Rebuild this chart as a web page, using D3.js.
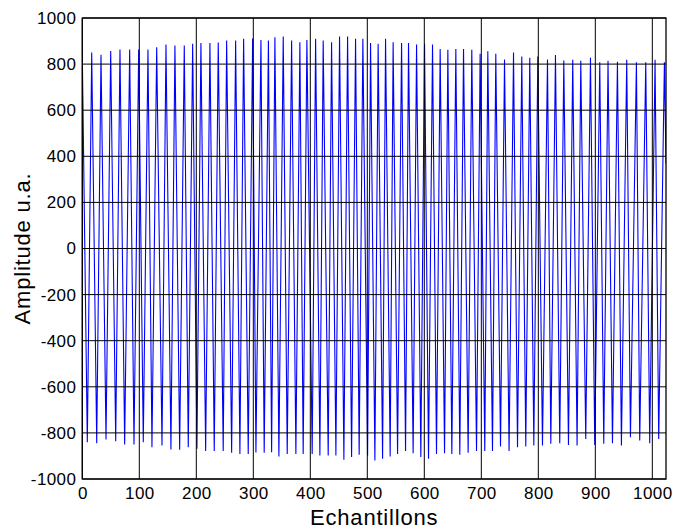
<!DOCTYPE html>
<html>
<head>
<meta charset="utf-8">
<script src="https://cdn.jsdelivr.net/npm/d3@7"></script>
<style>
  html, body { margin: 0; padding: 0; background: #fff; }
  svg { display: block; }
  text { font-family: "Liberation Sans", Arial, sans-serif; fill: #000; }
</style>
</head>
<body>
<svg id="chart" width="673" height="531"></svg>
<script>
// ---- data ----
const peakSamples = [0, 16.5, 32.8, 49.8, 66.1, 83.1, 98.9, 115.2, 130.5, 146.8, 162.5, 178.9, 193.6, 208.1, 223.9, 238.5, 253.2, 269.0, 283.0, 298.8, 313.4, 326.5,
  337.9, 352.5, 367.2, 381.7, 394.0, 409.3, 422.6, 437.3, 451.3, 465.4, 479.4, 492.2, 505.7, 519.0, 532.0, 545.3, 560.1, 572.3, 586.4, 600.4, 614.4, 627.8, 641.3, 655.3, 668.8,
  683.3, 697.9, 711.4, 725.4, 740.7, 756.5, 771.0, 785.0, 799.1, 816.1, 830.1, 844.7, 860.4, 874.5, 891.5, 907.8, 922.3, 938.8, 955.1, 972.1, 988.5, 1004.8, 1021.2];
const peakValues = [842, 850, 840, 857, 863, 863, 863, 863, 873, 885, 881, 881, 888, 891, 892, 894, 902, 902, 910, 911, 905, 902,
  917, 920, 902, 895, 905, 910, 902, 895, 920, 920, 910, 910, 891, 888, 910, 895, 891, 891, 885, 888, 885, 866, 862, 866, 866,
  862, 845, 856, 845, 820, 850, 833, 827, 833, 820, 839, 816, 819, 814, 827, 808, 814, 810, 819, 808, 808, 819, 808];
const troughSamples = [8.8, 25.3, 41.6, 58.6, 74.3, 90.7, 107.0, 122.2, 139.8, 155.5, 170.8, 185.9, 201.1, 216.4, 231.5, 247.2, 262.0, 276.5, 291.1, 304.6, 319.1,
  332.1, 344.9, 359.5, 374.7, 387.5, 403.3, 416.8, 431.4, 444.9, 458.9, 472.4, 485.7, 500.5, 513.3, 526.8, 540.1, 553.1, 567.1, 580.4, 593.9, 607.4, 621.4, 635.5, 648.3, 662.3,
  676.9, 691.6, 706.1, 719.6, 733.7, 748.7, 763.5, 778.0, 792.1, 807.3, 821.9, 837.6, 852.9, 868.0, 883.2, 899.0, 914.8, 930.1, 945.8, 961.6, 977.9, 995.4, 1011.2, 1024];
const troughValues = [-840, -845, -829, -836, -850, -850, -840, -862, -855, -872, -873, -862, -869, -879, -879, -879, -886, -891, -891, -885, -886,
  -884, -902, -891, -891, -891, -891, -898, -898, -898, -917, -905, -895, -898, -920, -912, -902, -891, -879, -888, -905, -912, -891, -888, -891, -895,
  -886, -879, -879, -879, -859, -879, -862, -859, -855, -855, -847, -845, -852, -855, -826, -852, -847, -845, -855, -819, -833, -845, -826, 370];
const xTicks = [0, 100, 200, 300, 400, 500, 600, 700, 800, 900, 1000];
const yTicks = [-1000, -800, -600, -400, -200, 0, 200, 400, 600, 800, 1000];
const xLabel = "Echantillons";
const yLabel = "Amplitude u.a.";

// ---- build series ----
const points = [];
peakSamples.forEach((s, i) => points.push([s, peakValues[i]]));
troughSamples.forEach((s, i) => points.push([s, troughValues[i]]));
points.sort((a, b) => a[0] - b[0]);

const svg = d3.select("#chart");
const L = 82.3, R = 666, T = 18, B = 479;
const x = d3.scaleLinear().domain([0, 1024]).range([L, R]);
const y = d3.scaleLinear().domain([-1000, 1000]).range([B, T]);

svg.append("defs").append("clipPath").attr("id", "clip")
  .append("rect").attr("x", L).attr("y", T).attr("width", R - L).attr("height", B - T);

// data line
svg.append("path")
  .datum(points)
  .attr("clip-path", "url(#clip)")
  .attr("fill", "none")
  .attr("stroke", "#0000ff")
  .attr("stroke-width", 1.1)
  .attr("d", d3.line().x(d => x(d[0])).y(d => y(d[1])));

// grid on top
const grid = svg.append("g").attr("stroke", "#000").attr("stroke-width", 1);
xTicks.forEach(t => {
  grid.append("line").attr("x1", x(t)).attr("x2", x(t)).attr("y1", T).attr("y2", B);
});
yTicks.forEach(t => {
  grid.append("line").attr("x1", L).attr("x2", R).attr("y1", y(t)).attr("y2", y(t));
});

// axes
const fmt = d => String(d);
const xAxis = d3.axisBottom(x).tickValues(xTicks).tickSize(0).tickPadding(8).tickFormat(fmt);
const yAxis = d3.axisLeft(y).tickValues(yTicks).tickSize(0).tickPadding(6).tickFormat(fmt);
const gx = svg.append("g").attr("transform", `translate(0,${B})`).call(xAxis);
const gy = svg.append("g").attr("transform", `translate(${L},0)`).call(yAxis);
[gx, gy].forEach(g => {
  g.select(".domain").remove();
  g.selectAll("text").style("font-family", '"Liberation Sans", Arial, sans-serif')
    .style("font-size", "17px").style("letter-spacing", "0.4px").attr("fill", "#000");
});

// frame
svg.append("rect").attr("x", L).attr("y", T).attr("width", R - L).attr("height", B - T)
  .attr("fill", "none").attr("stroke", "#000").attr("stroke-width", 1.3);

// labels
svg.append("text").attr("x", (L + R) / 2).attr("y", 525).attr("text-anchor", "middle")
  .style("font-size", "22px").style("letter-spacing", "0.8px").text(xLabel);
svg.append("text").attr("transform", `translate(30,${(T + B) / 2}) rotate(-90)`).attr("text-anchor", "middle")
  .style("font-size", "22px").style("letter-spacing", "0.8px").text(yLabel);
</script>
</body>
</html>
